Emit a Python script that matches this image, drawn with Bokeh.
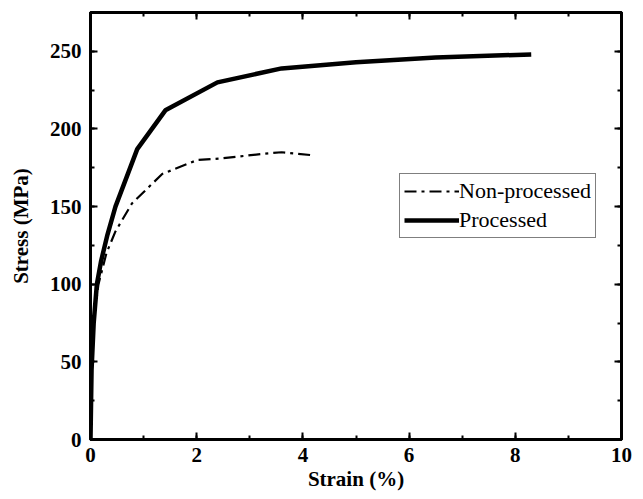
from bokeh.plotting import figure
from bokeh.models import Range1d, LinearAxis, SingleIntervalTicker, Legend, LegendItem, CustomJSTickFormatter
from bokeh.embed import file_html
from bokeh.resources import INLINE

proc_strain = [0.0, 0.02, 0.06, 0.12, 0.2, 0.32, 0.47, 0.88, 1.41, 2.39, 3.6, 5.0, 6.5, 8.3]
proc_stress = [0.0, 45, 75, 100, 115, 132, 150, 187, 212, 230, 239, 243, 246, 248]
non_strain = [0.0, 0.03, 0.08, 0.15, 0.3, 0.47, 0.78, 1.35, 2.01, 2.45, 3.26, 3.6, 4.2]
non_stress = [0.0, 50, 82, 100, 120, 134, 152, 171, 180, 181, 184, 185, 183]

x_ticks_interval = 2
y_ticks_interval = 50

FONT = "Liberation Serif"

p = figure(width=643, height=499, output_backend="svg", toolbar_location=None,
           x_range=Range1d(0, 10), y_range=Range1d(0, 275),
           min_border_left=90, min_border_right=22, min_border_top=12, min_border_bottom=60)
p.grid.visible = False
p.outline_line_color = "black"
p.outline_line_width = 3

def style_axis(ax, labels=True):
    ax.axis_line_width = 3
    ax.axis_line_color = "black"
    ax.major_tick_in = 7
    ax.major_tick_out = 0
    ax.minor_tick_in = 4
    ax.minor_tick_out = 0
    ax.major_tick_line_width = 2
    ax.minor_tick_line_width = 2
    ax.major_label_text_font = FONT
    ax.major_label_text_font_style = "bold"
    ax.major_label_text_font_size = "21px"
    ax.major_label_text_color = "black"
    ax.axis_label_text_font = FONT
    ax.axis_label_text_font_style = "bold"
    ax.axis_label_text_font_size = "21px"
    ax.axis_label_text_color = "black"
    if not labels:
        ax.formatter = CustomJSTickFormatter(code="return ''")

p.xaxis.ticker = SingleIntervalTicker(interval=x_ticks_interval, num_minor_ticks=2)
p.yaxis.ticker = SingleIntervalTicker(interval=y_ticks_interval, num_minor_ticks=2)
p.xaxis.axis_label = "Strain (%)"
p.yaxis.axis_label = "Stress (MPa)"
style_axis(p.xaxis[0])
style_axis(p.yaxis[0])
p.xaxis.major_label_standoff = 8
p.yaxis.major_label_standoff = 9
p.xaxis.axis_label_standoff = 2
p.yaxis.axis_label_standoff = 14

top = LinearAxis(ticker=SingleIntervalTicker(interval=x_ticks_interval, num_minor_ticks=2))
style_axis(top, labels=False)
p.add_layout(top, "above")
right = LinearAxis(ticker=SingleIntervalTicker(interval=y_ticks_interval, num_minor_ticks=2))
style_axis(right, labels=False)
p.add_layout(right, "right")

r1 = p.line(non_strain, non_stress, line_color="black", line_width=2.2, line_dash="12 5 3 5")
r2 = p.line(proc_strain, proc_stress, line_color="black", line_width=4.5)

legend = Legend(items=[LegendItem(label="Non-processed", renderers=[r1]),
                       LegendItem(label="Processed", renderers=[r2])],
                location=(309, 201))
legend.label_text_font = FONT
legend.label_text_font_size = "22px"
legend.label_text_color = "black"
legend.glyph_width = 55
legend.glyph_height = 22
legend.label_height = 22
legend.label_standoff = 0
legend.spacing = 3
legend.padding = 4
legend.margin = 0
legend.border_line_color = "black"
legend.border_line_width = 1
legend.background_fill_alpha = 1
p.add_layout(legend, "center")

open("out.html", "w").write(file_html(p, INLINE))
